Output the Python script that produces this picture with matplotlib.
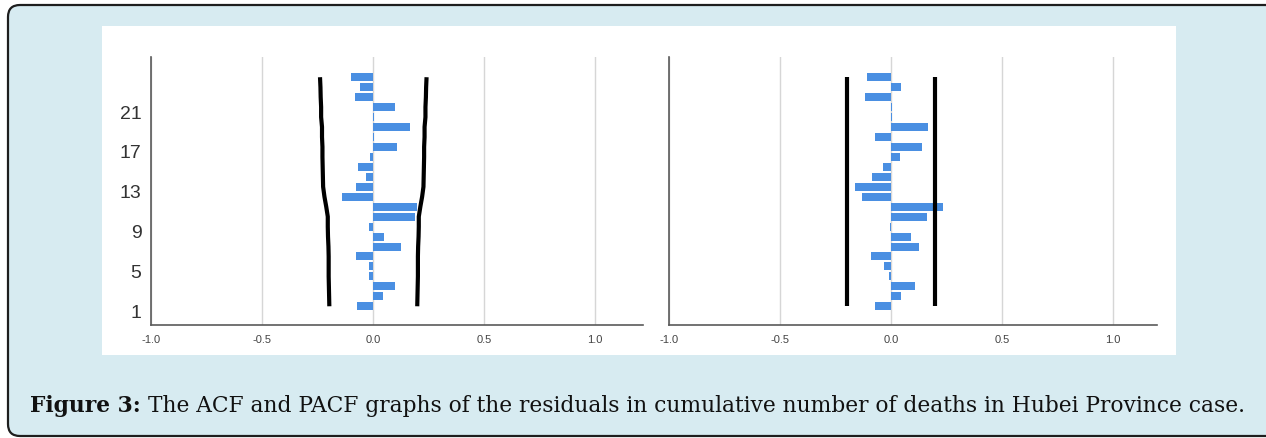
import matplotlib
matplotlib.use('Agg')
import matplotlib.pyplot as plt
import matplotlib.transforms as mtransforms
from matplotlib.patches import FancyBboxPatch, Rectangle

# ---------- data ----------#
lags = list(range(1, 25))
acf_vals = [-0.075, 0.045, 0.100, -0.020, -0.020, -0.080, 0.126, 0.048, -0.020, 0.188,
            0.198, -0.143, -0.077, -0.035, -0.068, -0.017, 0.105, 0.003, 0.165, 0.002,
            0.098, -0.083, -0.060, -0.100]
acf_limit = [0.198, 0.199, 0.200, 0.201, 0.201, 0.201, 0.202, 0.204, 0.205, 0.205,
             0.212, 0.220, 0.226, 0.227, 0.228, 0.229, 0.229, 0.231, 0.231, 0.235,
             0.235, 0.237, 0.238, 0.240]
pacf_vals = [-0.072, 0.045, 0.108, -0.008, -0.030, -0.090, 0.125, 0.090, -0.005, 0.160,
             0.233, -0.130, -0.160, -0.085, -0.037, 0.042, 0.140, -0.070, 0.168, 0.006,
             0.006, -0.117, 0.045, -0.110]
pacf_limit = 0.198
ytick_lags = [1, 5, 9, 13, 17, 21]
xticks = [-1.0, -0.5, 0.0, 0.5, 1.0]
xtick_labels = ['-1.0', '-0.5', '0.0', '0.5', '1.0']
caption_bold = "Figure 3:"
caption_rest = "The ACF and PACF graphs of the residuals in cumulative number of deaths in Hubei Province case."

W, H = 1266, 439
BAR_COLOR = '#4a8fe2'
BG_BLUE = '#d7ebf1'

fig = plt.figure(figsize=(W / 100, H / 100), dpi=100, facecolor='white')
ident = mtransforms.IdentityTransform()

# outer rounded box (runs off the right edge like the source)
box = FancyBboxPatch((8, 2), 1275, 431, boxstyle='round,pad=0,rounding_size=12',
                     fc=BG_BLUE, ec='#1e1e1e', lw=1.6, transform=ident, zorder=-3)
fig.add_artist(box)
# white panel holding the two charts
panel = Rectangle((102, H - 356), 1074, 329, fc='white', ec='none', transform=ident, zorder=-2)
fig.add_artist(panel)


def px_axes(x0, x1, ytop, ybot):
    return [x0 / W, (H - ybot) / H, (x1 - x0) / W, (ybot - ytop) / H]


def style_ax(ax, xmax):
    ax.set_facecolor('none')
    ax.set_xlim(-1.0, xmax)
    ax.set_ylim(-0.83, 26.0)
    ax.set_axisbelow(True)
    ax.grid(axis='x', color='#d6d6d6', lw=1.0)
    ax.grid(axis='y', visible=False)
    for s in ['top', 'right']:
        ax.spines[s].set_visible(False)
    for s in ['left', 'bottom']:
        ax.spines[s].set_color('#5a5a5a')
        ax.spines[s].set_linewidth(1.2)
    ax.set_xticks(xticks)
    ax.set_xticklabels(xtick_labels, fontsize=8, color='#444444', family='Liberation Sans')
    ax.tick_params(axis='both', length=0)
    ax.tick_params(axis='x', pad=7)


# ----------ACF--------------#
ax1 = fig.add_axes(px_axes(151.3, 643, 58.3, 325.5))
style_ax(ax1, 1.215)
ax1.barh(lags, acf_vals, height=0.8, color=BAR_COLOR, zorder=2)
ax1.plot(acf_limit, lags, color='black', lw=3, solid_capstyle='butt', zorder=3)
ax1.plot([-v for v in acf_limit], lags, color='black', lw=3, solid_capstyle='butt', zorder=3)
ax1.set_yticks(ytick_lags)
ax1.set_yticklabels([str(l) for l in ytick_lags], fontsize=14, color='#333333',
                    family='Liberation Sans')
ax1.tick_params(axis='y', pad=7)
shift = mtransforms.ScaledTranslation(0, -4 / 100, fig.dpi_scale_trans)
for lab in ax1.get_yticklabels():
    lab.set_transform(lab.get_transform() + shift)

# ----------PACF--------------#
ax2 = fig.add_axes(px_axes(669, 1157, 58.3, 325.5))
style_ax(ax2, 1.198)
ax2.barh(lags, pacf_vals, height=0.8, color=BAR_COLOR, zorder=2)
ax2.plot([pacf_limit, pacf_limit], [lags[0], lags[-1]], color='black', lw=3,
         solid_capstyle='butt', zorder=3)
ax2.plot([-pacf_limit, -pacf_limit], [lags[0], lags[-1]], color='black', lw=3,
         solid_capstyle='butt', zorder=3)
ax2.set_yticks([])

# ----------caption--------------#
cap_x0, cap_x1, cap_base = 30, 1247, 412
renderer = fig.canvas.get_renderer()


def caption_width(size):
    tb = fig.text(0, 0, caption_bold + ' ', fontsize=size, family='DejaVu Serif', weight='bold')
    tr = fig.text(0, 0, caption_rest, fontsize=size, family='DejaVu Serif')
    wb = tb.get_window_extent(renderer).width
    wr = tr.get_window_extent(renderer).width
    tb.remove()
    tr.remove()
    return wb, wr


size = 15.0
wb, wr = caption_width(size)
size = size * (cap_x1 - cap_x0) / (wb + wr)
wb, wr = caption_width(size)
fig.text(cap_x0 / W, (H - cap_base) / H, caption_bold + ' ', fontsize=size,
         family='DejaVu Serif', weight='bold', color='#111111', va='baseline')
fig.text((cap_x0 + wb) / W, (H - cap_base) / H, caption_rest, fontsize=size,
         family='DejaVu Serif', color='#111111', va='baseline')

fig.savefig('out.png', dpi=100, facecolor='white')
